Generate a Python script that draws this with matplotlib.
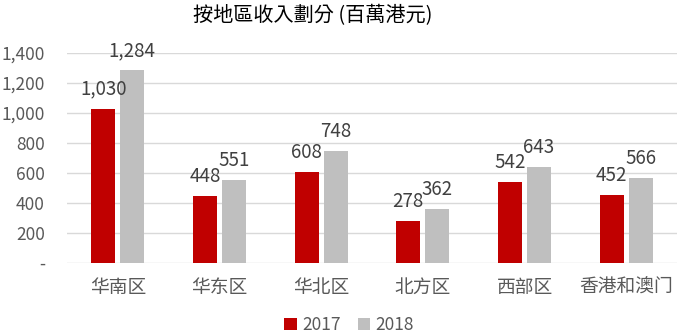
import matplotlib
matplotlib.use("Agg")
import matplotlib.pyplot as plt
import numpy as np

categories = ["华南区", "华东区", "华北区", "北方区", "西部区", "香港和澳门"]
series_names = ["2017", "2018"]
values_2017 = [1030, 448, 608, 278, 542, 452]
values_2018 = [1284, 551, 748, 362, 643, 566]
yticks = [0, 200, 400, 600, 800, 1000, 1200, 1400]
ytick_labels = ["-", "200", "400", "600", "800", "1,000", "1,200", "1,400"]
title = "按地區收入劃分 (百萬港元)"

fam = ["Noto Sans CJK SC", "DejaVu Sans"]
plt.rcParams['font.family'] = fam

fig = plt.figure(figsize=(6.77, 3.35), dpi=100)
ax = fig.add_axes([67/677, 1 - 263/335, 610/677, 210/335])

x = np.arange(len(categories))
w = 0.236
gap = 0.05
c1, c2 = "#C00000", "#BFBFBF"
b1 = ax.bar(x - (w + gap) / 2, values_2017, w, color=c1, label=series_names[0], zorder=3)
b2 = ax.bar(x + (w + gap) / 2, values_2018, w, color=c2, label=series_names[1], zorder=3)

for bars, vals in ((b1, values_2017), (b2, values_2018)):
    for r, v in zip(bars, vals):
        ax.annotate(f"{v:,}", (r.get_x() + r.get_width() / 2, v), xytext=(0, 6.5),
                    textcoords="offset points", ha="center", va="bottom",
                    fontsize=13.5, color="#404040")

ax.set_xlim(-0.5, len(categories) - 0.5)
ax.set_ylim(0, 1400)
ax.set_yticks(yticks)
ax.set_yticklabels(ytick_labels, fontsize=12.5, color="#595959")
ax.set_xticks(x)
ax.set_xticklabels(categories, fontsize=13.5, color="#595959")
ax.tick_params(axis="both", length=0)
ax.tick_params(axis="y", pad=16)
ax.tick_params(axis="x", pad=10)
ax.grid(axis="y", color="#D9D9D9", linewidth=1, zorder=0)
for s in ax.spines.values():
    s.set_visible(False)

fig.text(313/677, 1 - 16/335, title, ha="center", va="center", fontsize=14.5, color="#000000",
         family=["Noto Sans CJK TC", "DejaVu Sans"])

leg = fig.legend(handles=[b1, b2], labels=series_names, loc="center", bbox_to_anchor=(349/677, 1 - 325/335),
                 ncol=2, frameon=False, fontsize=12.5, handlelength=0.7, handleheight=0.7,
                 handletextpad=0.3, columnspacing=1.0, borderpad=0)
for t in leg.get_texts():
    t.set_color("#595959")

fig.savefig("out.png", dpi=100)
